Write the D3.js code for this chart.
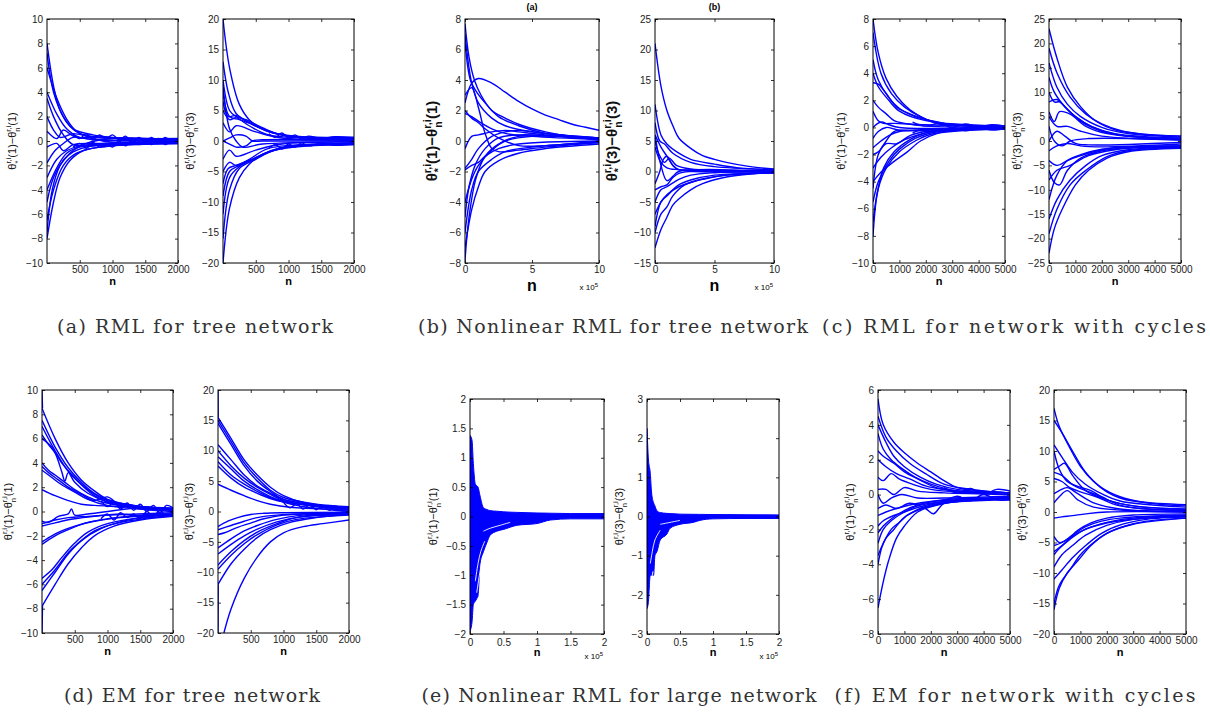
<!DOCTYPE html>
<html>
<head>
<meta charset="utf-8">
<script src="https://cdn.jsdelivr.net/npm/d3@7"></script>
<style>
  body { margin: 0; background: #fff; }
  .tick text { font-family: "Liberation Sans", Arial, sans-serif; font-size: 10px; fill: #222; }
  .tick line { stroke: #000; stroke-width: 0.8; }
</style>
</head>
<body>
<div id="chart"></div>
<script>
// ---- data: each curve is a list of [n, value] ----

const ticks2000 = [500, 1000, 1500, 2000];
const ticks10 = [0, 5, 10];
const ticks5000 = [0, 1000, 2000, 3000, 4000, 5000];
const ticks2 = [0, 0.5, 1, 1.5, 2];
const yTicksA1 = [-10, -8, -6, -4, -2, 0, 2, 4, 6, 8, 10];
const yTicks20 = [-20, -15, -10, -5, 0, 5, 10, 15, 20];
const yTicksB1 = [-8, -6, -4, -2, 0, 2, 4, 6, 8];
const yTicksB2 = [-15, -10, -5, 0, 5, 10, 15, 20, 25];
const yTicksC1 = [-10, -8, -6, -4, -2, 0, 2, 4, 6, 8];
const yTicksC2 = [-25, -20, -15, -10, -5, 0, 5, 10, 15, 20, 25];
const yTicksE1 = [-2, -1.5, -1, -0.5, 0, 0.5, 1, 1.5, 2];
const yTicksE2 = [-3, -2, -1, 0, 1, 2, 3];
const yTicksF1 = [-8, -6, -4, -2, 0, 2, 4, 6];

const captions = [
    "(a) RML for tree network",
    "(b) Nonlinear RML for tree network",
    "(c) RML for network with cycles",
    "(d) EM for tree network",
    "(e) Nonlinear RML for large network",
    "(f) EM for network with cycles"
];

const curvesA1 = [
    [[0,8],[100,4.5],[200,2.5],[350,1.2],[500,0.6],[800,0.3],[1200,0.2],[2000,0.1]],
    [[0,7.2],[100,4],[250,2],[400,1],[700,0.5],[1000,0.3],[2000,0.15]],
    [[0,6],[150,3.5],[300,1.8],[450,0.8],[700,0.2],[1000,-0.1],[2000,0]],
    [[0,4],[150,2.2],[300,1],[500,0.3],[800,0.4],[1200,0.1],[2000,0.05]],
    [[0,3.5],[100,2],[250,0.5],[400,-0.3],[700,-0.4],[1200,-0.2],[2000,-0.1]],
    [[0,2],[100,0.9],[200,0.3],[400,0.6],[700,0.3],[1200,0.2],[2000,0.2]],
    [[0,0.8],[150,0.2],[250,0.9],[400,0.4],[800,0.1],[2000,0]],
    [[0,-0.5],[150,-0.2],[250,-0.8],[400,-0.3],[800,-0.2],[2000,-0.1]],
    [[0,-1.8],[120,-0.8],[250,-0.2],[400,0.3],[700,0.1],[2000,0]],
    [[0,-3],[150,-1.5],[300,-0.8],[500,-0.4],[900,-0.2],[2000,-0.1]],
    [[0,-4],[150,-2.2],[300,-1],[500,-0.5],[1000,-0.3],[2000,-0.2]],
    [[0,-5],[100,-3],[250,-1.6],[400,-0.9],[700,-0.4],[2000,-0.15]],
    [[0,-6.5],[100,-4],[250,-2],[450,-1],[800,-0.5],[2000,-0.2]],
    [[0,-8],[100,-5],[200,-3],[350,-1.6],[550,-0.8],[1000,-0.4],[2000,-0.15]],
    [[0,-7.5],[80,-4],[200,-2],[350,-1],[600,-0.2],[1000,0.2],[2000,0.1]],
    [[400,0.5],[500,0.2],[600,0.6],[700,0.1],[800,0.5],[900,0.2],[1000,0.5],[1100,0.1],[1200,0.4],[1300,-0.1],[1400,0.3],[1500,0],[1600,0.3],[1700,-0.2],[1800,0.3],[1900,0],[2000,0.2]],
    [[400,-0.5],[500,-0.2],[600,-0.6],[700,-0.1],[800,-0.5],[900,-0.2],[1000,-0.5],[1100,0],[1200,-0.4],[1300,0.1],[1400,-0.3],[1500,0],[1600,-0.3],[1700,0.2],[1800,-0.3],[1900,0],[2000,-0.2]]
];

const curvesA2 = [
    [[0,20],[100,12],[250,6],[400,3.5],[600,2],[900,1],[1300,0.6],[2000,0.4]],
    [[0,13],[80,8],[200,4.5],[400,3],[600,2],[1000,0.8],[2000,0.5]],
    [[0,10],[100,5],[200,4],[350,3.5],[600,2.2],[900,1],[2000,0.6]],
    [[0,8],[100,4],[250,3.5],[500,2.5],[800,1.2],[1200,0.6],[2000,0.5]],
    [[0,6.5],[80,4],[200,4.2],[400,3],[700,1.5],[1100,0.8],[2000,0.5]],
    [[0,5],[100,3.5],[200,3.8],[400,2.5],[700,1],[2000,0.3]],
    [[0,3],[100,1.5],[200,2.5],[500,1.5],[900,0.5],[2000,0.2]],
    [[0,9],[100,2],[200,0],[300,-1],[600,-0.5],[2000,-0.1]],
    [[0,0],[100,0.5],[200,1],[350,0.8],[450,0],[600,0],[2000,0]],
    [[0,0],[100,-0.5],[200,-1],[350,-0.8],[450,0],[600,0.2],[2000,0.1]],
    [[0,-3],[100,-1.5],[200,-2.5],[500,-1.5],[900,-0.5],[2000,-0.2]],
    [[0,-5],[100,-3.5],[200,-4],[400,-3],[700,-1.2],[2000,-0.4]],
    [[0,-7],[80,-4.5],[200,-4],[400,-3.2],[700,-1.8],[1100,-0.8],[2000,-0.5]],
    [[0,-9],[100,-5],[250,-4],[500,-2.8],[800,-1.4],[1200,-0.7],[2000,-0.5]],
    [[0,-12],[100,-6],[250,-4.2],[450,-3],[700,-1.8],[1000,-0.9],[2000,-0.6]],
    [[0,-16],[100,-8],[250,-4.5],[500,-3],[800,-1.5],[2000,-0.5]],
    [[0,-20],[100,-11],[250,-6],[400,-3.8],[600,-2.2],[900,-1.1],[2000,-0.5]],
    [[700,1.2],[800,0.6],[900,1.3],[1000,0.5],[1100,1],[1200,0.3],[1300,0.8],[1500,0.4],[1700,0.7],[2000,0.6]],
    [[700,-1.2],[800,-0.6],[900,-1.3],[1000,-0.5],[1100,-1],[1200,-0.3],[1300,-0.8],[1500,-0.4],[1700,-0.7],[2000,-0.6]]
];

const curvesB1 = [
    [[0,2.5],[0.5,3.8],[1,4.1],[2,3.8],[3,3.2],[4,2.6],[5,2.1],[6,1.7],[7,1.4],[8,1.1],[9,0.9],[10,0.7]],
    [[0,7.7],[0.3,5.5],[0.7,4],[1.2,3],[2,2],[3,1.5],[4,1.1],[6,0.6],[8,0.3],[10,0.2]],
    [[0,7],[0.5,3.8],[1,2.5],[2,1.5],[3,1],[5,0.6],[7,0.4],[10,0.2]],
    [[0,6.5],[0.4,4],[0.8,3.3],[1.5,2.5],[2.5,1.6],[4,1],[6,0.5],[10,0.1]],
    [[0,3],[0.5,3.5],[1,2.2],[1.5,0.5],[2,-0.5],[2.5,-0.7],[4,-0.6],[6,-0.4],[10,-0.1]],
    [[0,1.8],[0.5,1.6],[1,1.3],[2,0.8],[3,0.5],[5,0.3],[10,0.1]],
    [[0,2],[0.5,1.5],[1,1.2],[1.5,0.8],[2.5,0.2],[4,-0.3],[6,-0.3],[10,0]],
    [[0,-0.5],[0.5,0.3],[1,0.4],[2,0.6],[3,0.7],[4,0.6],[6,0.4],[10,0.1]],
    [[0,-1.8],[0.5,-1.2],[1,-0.5],[2,0.3],[3,0.6],[4,0.7],[6,0.5],[10,0.2]],
    [[0,-1.9],[0.5,-1.6],[1,-1.4],[1.5,-1],[2.5,-0.5],[4,-0.2],[10,0]],
    [[0,-4],[0.5,-2.5],[1,-1.6],[2,-0.6],[3,0],[5,0.3],[10,0.2]],
    [[0,-5],[0.3,-3],[0.8,-1.5],[1.5,-0.5],[2.5,0.2],[4,0.4],[10,0.1]],
    [[0,-6],[0.5,-3.2],[1,-2],[2,-1.2],[3,-0.7],[5,-0.4],[10,-0.1]],
    [[0,-7],[0.5,-4.5],[1,-3],[1.5,-2],[2.5,-1.3],[4,-0.8],[6,-0.5],[10,-0.2]],
    [[0,-7.8],[0.3,-5],[0.8,-2.5],[1.5,-1],[2.5,-0.2],[4,0.3],[10,0.1]]
];

const curvesB2 = [
    [[0,21],[0.5,14],[1,10],[1.5,7.5],[2,5.5],[3,3.8],[4,2.6],[5,2],[6,1.5],[8,0.8],[10,0.4]],
    [[0,11],[0.5,6],[1,4.5],[2,3],[3,2],[5,1.2],[7,0.6],[10,0.3]],
    [[0,8],[0.4,5],[0.8,4.5],[1.5,3],[3,1.5],[5,0.8],[10,0.3]],
    [[0,6],[0.5,4],[1,2.5],[1.5,1],[2,0.3],[4,0.1],[10,0]],
    [[0,5],[0.3,3],[0.8,1.5],[1.2,2.2],[1.8,1],[3,0.4],[10,0.1]],
    [[0,4],[0.5,1.5],[1,0.6],[2,0.3],[10,0]],
    [[0,-2],[0.4,0],[0.7,2],[1,2.5],[1.5,1],[2,0.3],[10,0]],
    [[0,6],[0.5,1],[1,-1.5],[1.5,-0.8],[2,0],[10,0]],
    [[0,-3],[0.5,-2.5],[1,-2.2],[1.5,-1],[2,-0.3],[3,0],[10,0]],
    [[0,-5],[0.5,-3],[1,-2.5],[2,-1.3],[3,-0.6],[5,-0.2],[10,0]],
    [[0,-7],[0.5,-5],[1,-3.8],[2,-2.5],[3,-1.8],[4,-1.3],[6,-0.6],[10,-0.2]],
    [[0,-9],[0.5,-5],[1,-4],[2,-2.2],[3,-1.4],[5,-0.6],[10,-0.2]],
    [[0,-12.5],[0.5,-9.5],[1,-7.5],[1.5,-5.5],[2,-4.5],[3,-3],[4,-2],[6,-0.9],[8,-0.4],[10,-0.2]],
    [[0,-10],[0.5,-7],[1,-5.8],[1.5,-4],[2.5,-2.2],[4,-1.2],[6,-0.6],[10,-0.2]]
];

const curvesC1 = [
    [[0,8],[200,5.5],[500,3.6],[900,2.3],[1400,1.3],[2000,0.6],[2600,0.2],[3500,0.1],[5000,0]],
    [[0,7],[300,4],[700,2.5],[1200,1.5],[1800,0.8],[2500,0.3],[5000,0.1]],
    [[0,5],[200,3.5],[600,2.2],[1000,1.4],[1600,0.8],[2200,0.5],[3000,0.2],[5000,0.1]],
    [[0,3.3],[200,3.2],[500,2.5],[900,1.5],[1400,1],[2000,0.6],[2600,0.3],[5000,0.1]],
    [[0,4],[200,3],[600,2],[1000,1.2],[2000,0.5],[5000,0.1]],
    [[0,2],[200,1.5],[500,1],[800,0.5],[1200,0.3],[2000,0.1],[5000,0]],
    [[0,1.2],[200,0.5],[400,0.3],[800,0.3],[2000,0.2],[5000,0.1]],
    [[0,0],[300,0.4],[600,0.2],[1000,0],[5000,0]],
    [[0,-0.8],[200,-0.3],[500,0],[1000,-0.2],[5000,-0.1]],
    [[0,-1.5],[300,-1],[600,-0.6],[1000,-0.3],[2000,-0.2],[5000,-0.1]],
    [[0,-2],[200,-1.8],[500,-1.2],[900,-1.2],[1400,-0.6],[2000,-0.3],[5000,-0.1]],
    [[0,-3],[300,-2.2],[700,-1.5],[1200,-0.9],[1800,-0.5],[2500,-0.2],[5000,-0.1]],
    [[0,-4],[300,-3.3],[800,-2.5],[1300,-1.8],[1800,-1],[2500,-0.4],[3500,-0.1],[5000,-0.1]],
    [[0,-5.5],[200,-4],[600,-2.5],[1000,-1.6],[1600,-0.8],[2500,-0.3],[5000,-0.1]],
    [[0,-7],[200,-4.5],[500,-3],[1000,-1.8],[1600,-1],[2200,-0.5],[5000,-0.1]],
    [[0,-8],[150,-5],[400,-3],[800,-1.8],[1400,-0.9],[2000,-0.4],[5000,-0.1]],
    [[0,-4.5],[200,-2],[500,-1],[800,-0.3],[1500,-0.2],[5000,0]],
    [[1500,0.4],[2000,0.1],[2500,0.3],[3000,0],[3500,0.25],[4000,0.05],[4500,0.2],[5000,0.1]],
    [[1500,-0.4],[2000,-0.1],[2500,-0.3],[3000,0],[3500,-0.25],[4000,-0.05],[4500,-0.2],[5000,-0.1]]
];

const curvesC2 = [
    [[0,23],[300,17],[700,11],[1200,7],[1800,4],[2500,2.3],[3500,1.4],[5000,1]],
    [[0,19],[300,14],[800,9],[1400,5.5],[2000,3.5],[2800,2],[4000,1.2],[5000,1]],
    [[0,16],[300,11],[700,7.5],[1200,5],[2000,2.8],[3000,1.5],[5000,0.8]],
    [[0,13],[200,10],[600,7],[1000,5],[1600,3],[2500,1.5],[5000,0.6]],
    [[0,10],[200,8],[400,8],[700,6.5],[1200,4],[2000,2],[3000,1],[5000,0.5]],
    [[0,8],[300,8.5],[600,7],[1000,5],[1600,3],[2600,1.3],[5000,0.4]],
    [[0,6],[200,4],[400,6],[800,5.5],[1400,3],[2200,1.5],[5000,0.3]],
    [[0,5],[300,3],[700,3],[1200,2],[2000,1],[5000,0.2]],
    [[0,3],[200,0],[500,-1],[800,0],[1500,0.5],[5000,0.2]],
    [[0,0],[300,2],[600,1],[1000,-0.5],[1500,-0.8],[5000,-0.3]],
    [[0,-2],[300,-1],[700,-0.5],[1200,-1],[2000,-1.2],[5000,-0.6]],
    [[0,-4],[300,-5],[700,-4],[1200,-3],[2000,-1.8],[3000,-1.2],[5000,-1]],
    [[0,-6],[200,-8.5],[400,-9],[700,-6],[1200,-3.5],[2000,-2],[3000,-1.4],[5000,-1.2]],
    [[0,-8],[300,-6],[800,-5],[1500,-3],[2500,-1.8],[5000,-1]],
    [[0,-12],[300,-7],[700,-4],[1200,-2.8],[2000,-1.7],[3000,-1.2],[5000,-1]],
    [[0,-16],[300,-12],[800,-8],[1400,-5],[2000,-3],[3000,-1.8],[5000,-1.2]],
    [[0,-19],[300,-14],[800,-9],[1400,-6],[2200,-3.2],[3000,-2],[5000,-1.3]],
    [[0,-23],[200,-18],[500,-14],[1000,-9],[1500,-6],[2200,-3.5],[3000,-2.2],[5000,-1.5]]
];

const curvesD1 = [
    [[0,10],[8,8.5]],
    [[0,-10],[8,-7.8]],
    [[0,8.5],[200,6],[400,4],[600,2.6],[800,1.7],[1000,1],[1400,0.5],[2000,0.2]],
    [[0,7.5],[200,5.3],[400,3.6],[600,2.4],[800,1.5],[1100,0.8],[1500,0.4],[2000,0.2]],
    [[0,7],[200,5],[400,3.3],[600,2.2],[800,1.3],[1100,0.6],[2000,0.3]],
    [[0,6.3],[100,5.5],[200,4.8],[300,3.3],[350,2.5],[400,3.2],[500,2.4],[700,1.5],[1000,0.8],[1500,0.4],[2000,0.2]],
    [[0,6],[150,5.3],[300,4],[500,2.8],[700,1.8],[1000,0.9],[2000,0.2]],
    [[0,4],[100,3.4],[200,3],[350,2.4],[500,1.8],[700,1.2],[900,0.8],[1200,0.5],[1500,0.3],[2000,0.2]],
    [[0,3.7],[100,3.2],[250,2.6],[400,2],[600,1.4],[800,0.9],[1000,1.2],[1200,0.5],[2000,0.1]],
    [[0,3.4],[150,2.8],[300,2.2],[500,1.6],[700,1],[1000,0.5],[2000,0]],
    [[0,1.8],[200,1.3],[400,0.9],[600,0.6],[800,0.5],[1200,0.4],[2000,0.2]],
    [[0,-0.8],[100,-0.9],[250,-0.4],[400,-0.2],[450,0.2],[500,-0.3],[700,-0.2],[1000,0],[1500,0.3],[2000,0.1]],
    [[0,-1.2],[150,-1],[300,-0.8],[500,-0.6],[800,-0.4],[1200,-0.2],[1700,-0.5],[2000,-0.2]],
    [[0,-1],[200,-0.7],[400,-0.5],[700,-0.4],[1000,-0.3],[2000,-0.1]],
    [[0,-2.5],[150,-2],[300,-1.6],[500,-1.2],[800,-0.8],[1200,-0.5],[2000,-0.2]],
    [[0,-2.7],[200,-2],[400,-1.5],[700,-0.9],[1000,-0.6],[1500,-0.3],[2000,-0.2]],
    [[0,-5.5],[150,-4.8],[300,-3.8],[500,-2.6],[700,-1.7],[1000,-1],[1500,-0.5],[2000,-0.3]],
    [[0,-6],[200,-4.8],[400,-3.4],[600,-2.4],[800,-1.6],[1100,-1],[1500,-0.5],[2000,-0.2]],
    [[0,-6.5],[200,-5],[400,-3.5],[600,-2.4],[900,-1.4],[1200,-0.9],[2000,-0.3]],
    [[0,-7.8],[200,-6],[400,-4.3],[600,-3],[800,-2],[1100,-1.2],[1500,-0.7],[2000,-0.4]],
    [[900,0.9],[1000,0.4],[1100,0.8],[1200,0.2],[1300,0.7],[1400,0.1],[1500,0.6],[1600,0],[1700,0.5],[1800,-0.1],[1900,0.5],[2000,0.3]],
    [[900,-0.6],[1000,-0.2],[1100,-0.7],[1200,-0.1],[1300,-0.5],[1400,-0.2],[1500,-0.6],[1600,0],[1700,-0.4],[1800,0.1],[1900,-0.4],[2000,-0.2]]
];

const curvesD2 = [
    [[0,20],[3,15.5]],
    [[0,-20],[3,-12]],
    [[0,15.5],[200,12],[400,8.5],[600,6],[800,4],[1000,2.6],[1300,1.5],[2000,0.6]],
    [[0,15],[200,11.5],[400,8],[600,5.5],[800,3.5],[1000,2.3],[1500,1.2],[2000,0.8]],
    [[0,14.5],[200,11],[400,7.5],[600,5],[800,3.3],[1000,2],[2000,0.5]],
    [[0,11],[200,8.5],[400,6],[600,4.2],[800,3],[1000,2],[1500,1],[2000,0.4]],
    [[0,10],[200,7.5],[400,5.5],[600,4],[800,2.8],[1000,1.8],[2000,0.2]],
    [[0,9],[200,7],[400,5],[600,3.6],[900,2],[1500,0.8],[2000,0.3]],
    [[0,8.2],[200,6],[400,4.5],[600,3.3],[800,2.3],[1200,1],[2000,0]],
    [[0,7.5],[200,5.5],[400,4],[600,3],[900,1.8],[2000,0.5]],
    [[0,4.5],[200,3.5],[400,2.6],[600,1.8],[800,1.2],[1100,0.7],[2000,0.3]],
    [[0,-2.5],[150,-1.6],[300,-1],[500,-0.5],[700,-0.3],[1000,-0.2],[2000,-0.1]],
    [[0,-3],[200,-2.3],[400,-1.6],[600,-1],[900,-0.6],[2000,-0.2]],
    [[0,-3.8],[100,-3.5],[300,-2.6],[500,-1.9],[700,-1.2],[1000,-0.6],[2000,-0.3]],
    [[0,-6],[200,-4.5],[400,-3.2],[600,-2.3],[900,-1.3],[1300,-0.6],[2000,-0.2]],
    [[0,-7],[200,-5.4],[400,-4],[600,-2.9],[900,-1.7],[1300,-0.8],[2000,-0.3]],
    [[0,-8.8],[200,-6.6],[400,-4.8],[600,-3.4],[900,-2],[1200,-1],[2000,-0.5]],
    [[0,-9.5],[200,-7.2],[400,-5.3],[600,-3.8],[900,-2.2],[1200,-1.3],[2000,-0.6]],
    [[0,-12],[200,-8.6],[400,-6.2],[600,-4.3],[800,-3],[1100,-1.8],[1500,-1],[2000,-0.4]],
    [[90,-20],[200,-16],[400,-11],[600,-7.5],[800,-5],[1000,-3.5],[1300,-2.5],[1600,-2],[2000,-1.4]],
    [[1000,1.5],[1100,0.6],[1200,1.3],[1300,0.4],[1400,1.1],[1500,0.3],[1600,1],[1700,0.2],[1800,0.9],[1900,0.1],[2000,0.8]]
];

// dense bands in (e): upper and lower edges of the filled region
const upperE1 = [[0,1.38],[0.03,1.3],[0.05,0.9],[0.08,0.55],[0.12,0.5],[0.15,0.35],[0.2,0.15],[0.25,0.12],[0.3,0.1],[0.5,0.08],[0.7,0.07],[1,0.06],[1.5,0.05],[2,0.05]];
const lowerE1 = [[0,-1.95],[0.03,-1.8],[0.05,-1.5],[0.1,-1.4],[0.12,-1.35],[0.15,-0.8],[0.2,-0.6],[0.25,-0.45],[0.3,-0.32],[0.4,-0.25],[0.5,-0.22],[0.7,-0.15],[1,-0.12],[1.2,-0.06],[1.5,-0.04],[2,-0.04]];
const upperE2 = [[0,2.25],[0.02,1.5],[0.05,1.1],[0.07,0.6],[0.1,0.35],[0.15,0.15],[0.2,0.1],[0.3,0.08],[0.5,0.06],[1,0.05],[2,0.04]];
const lowerE2 = [[0,-2.35],[0.02,-2.2],[0.05,-1.5],[0.1,-1.5],[0.12,-1],[0.15,-0.9],[0.2,-0.6],[0.3,-0.45],[0.35,-0.3],[0.5,-0.2],[0.7,-0.15],[0.8,-0.1],[1,-0.06],[1.5,-0.05],[2,-0.05]];
// white streaks seen inside the dense bands of (e)
const gapsE1 = [
    [[0.08,-1.1],[0.12,-0.8],[0.16,-0.6],[0.22,-0.42]],
    [[0.1,-1.3],[0.14,-1.0],[0.18,-0.75]],
    [[0.2,-0.25],[0.3,-0.2],[0.45,-0.15],[0.6,-0.1]]
];
const gapsE2 = [
    [[0.05,-1.2],[0.08,-0.9],[0.12,-0.6],[0.2,-0.35]],
    [[0.06,-1.7],[0.09,-1.4]],
    [[0.2,-0.2],[0.35,-0.15],[0.5,-0.1]]
];

const curvesF1 = [
    [[0,5.5],[200,4],[600,3],[1000,2.4],[1500,1.8],[2000,1.3],[2500,0.8],[3000,0.4],[4000,0.2],[5000,0.1]],
    [[0,4.5],[300,3.3],[700,2.5],[1200,1.8],[1800,1.2],[2500,0.6],[3500,0.3],[5000,0.1]],
    [[0,4],[300,3],[600,2.2],[1000,1.6],[1600,1],[2200,0.6],[3000,0.3],[5000,0.1]],
    [[0,3.5],[200,2.6],[500,2],[900,1.5],[1400,1],[2000,0.6],[3000,0.2],[5000,0]],
    [[0,2.5],[200,2.2],[600,1.8],[1000,1.3],[1500,0.9],[2200,0.4],[3000,0.2],[5000,0.1]],
    [[0,2],[300,1.6],[700,1.2],[1200,0.9],[1800,0.5],[2500,0.3],[5000,0]],
    [[0,1],[200,0.8],[500,1.2],[800,0.9],[1300,0.6],[2000,0.3],[5000,0]],
    [[0,0.3],[300,0.3],[600,0],[1000,0.4],[1500,0.2],[2500,0.1],[5000,0]],
    [[0,0],[200,-0.5],[500,-0.2],[900,0],[1500,-0.2],[2500,-0.2],[5000,-0.1]],
    [[0,-0.8],[300,-0.6],[700,-0.8],[1200,-0.5],[1800,-0.8],[2100,-1.1],[2500,-0.5],[3500,-0.3],[5000,-0.2]],
    [[0,-1.2],[300,-1],[700,-0.8],[1200,-0.6],[2000,-0.4],[5000,-0.2]],
    [[0,-1.8],[200,-1.5],[600,-1.2],[1000,-1],[1600,-0.7],[2500,-0.4],[5000,-0.2]],
    [[0,-2.2],[200,-1.8],[500,-1.4],[900,-1],[1500,-0.6],[2500,-0.3],[5000,-0.2]],
    [[0,-2.8],[200,-2],[500,-1.5],[1000,-1],[1600,-0.6],[5000,-0.2]],
    [[0,-3.5],[200,-2.8],[500,-2],[800,-1.6],[1200,-1.1],[2000,-0.6],[5000,-0.3]],
    [[0,-4],[150,-3],[300,-2.5],[600,-2],[1000,-1.3],[1500,-0.9],[2500,-0.5],[5000,-0.2]],
    [[0,-6.5],[200,-5],[400,-3.8],[700,-2.5],[1000,-1.8],[1500,-1],[2000,-0.7],[3000,-0.4],[5000,-0.2]],
    [[2500,0.4],[3000,0.1],[3500,0.35],[4000,0],[4500,0.3],[5000,0.2]],
    [[2500,-0.4],[3000,-0.1],[3500,-0.35],[4000,0],[4500,-0.3],[5000,-0.3]]
];

const curvesF2 = [
    [[0,17],[200,14],[600,10.5],[1000,7.5],[1500,5],[2000,3.3],[2500,2.3],[3000,1.8],[4000,1.4],[5000,1.2]],
    [[0,15],[300,13],[700,10],[1200,6.5],[1800,4],[2500,2.5],[3500,1.5],[5000,1]],
    [[0,11],[300,9],[700,6.5],[1200,4.5],[1800,3],[2500,1.8],[5000,0.8]],
    [[0,10],[200,7],[500,5],[900,4.2],[1400,3.5],[2000,2],[3000,1],[5000,0.5]],
    [[0,7],[200,7.5],[400,8],[700,6],[1200,3.5],[2000,2],[3000,1],[5000,0.4]],
    [[0,6.5],[300,6],[700,4.5],[1200,3.5],[1800,2.5],[2600,1],[5000,0.2]],
    [[0,5.5],[300,5],[600,4],[1000,3.3],[1600,2.5],[2500,1],[5000,0.3]],
    [[0,3],[200,3.5],[500,4],[900,3],[1500,1.5],[2500,0.5],[5000,0.1]],
    [[0,1.5],[200,2.5],[500,3.5],[900,2],[1500,0.8],[5000,0]],
    [[0,-1],[300,-0.8],[700,-0.6],[1200,-0.3],[2000,0],[5000,0]],
    [[0,-4],[200,-5],[500,-4.5],[900,-3],[1400,-1.8],[2000,-1],[3000,-0.5],[5000,-0.3]],
    [[0,-5.5],[300,-5],[700,-3.8],[1200,-2.4],[1800,-1.5],[2500,-1],[5000,-0.5]],
    [[0,-6.5],[300,-5.5],[700,-4],[1200,-2.8],[2000,-1.7],[3000,-1],[5000,-0.6]],
    [[0,-7],[200,-6],[600,-4.5],[1100,-3],[1800,-2],[3000,-1.2],[5000,-0.7]],
    [[0,-9],[300,-7],[700,-5.5],[1200,-3.8],[2000,-2.2],[3000,-1.2],[5000,-0.8]],
    [[0,-11],[300,-9.5],[700,-7.5],[1200,-5.5],[1800,-3.5],[2600,-2],[3500,-1.2],[5000,-0.8]],
    [[0,-15],[200,-12],[600,-9.5],[1000,-7],[1500,-5],[2000,-3.5],[2700,-2.3],[3500,-1.5],[5000,-1]],
    [[0,-16],[200,-12.5],[500,-10],[900,-8],[1400,-5.5],[2000,-3.5],[3000,-2],[5000,-1]]
];

// ---- layout ----
const W = 1210, H = 714;
const blue = "#0000ff";
const fmt = d3.format("");

const svg = d3.select("#chart").append("svg")
    .attr("width", W)
    .attr("height", H)
    .style("font-family", "'Liberation Sans', Arial, sans-serif");

const panels = [
    {l: 47, r: 178, t: 19, b: 263, xd: [0, 2000], xt: ticks2000, yd: [-10, 10], yt: yTicksA1, curves: curvesA1, k: 1, yl: 16, big: false},
    {l: 223, r: 354, t: 19, b: 263, xd: [0, 2000], xt: ticks2000, yd: [-20, 20], yt: yTicks20, curves: curvesA2, k: 3, yl: 194, big: false},
    {l: 465, r: 599, t: 19, b: 263, xd: [0, 10], xt: ticks10, yd: [-8, 8], yt: yTicksB1, curves: curvesB1, k: 1, yl: 437, big: true, exp: true, title: "(a)"},
    {l: 655, r: 774, t: 19, b: 263, xd: [0, 10], xt: ticks10, yd: [-15, 25], yt: yTicksB2, curves: curvesB2, k: 3, yl: 617, big: true, exp: true, title: "(b)"},
    {l: 873, r: 1005, t: 19, b: 263, xd: [0, 5000], xt: ticks5000, yd: [-10, 8], yt: yTicksC1, curves: curvesC1, k: 1, yl: 845, big: false},
    {l: 1049, r: 1181, t: 19, b: 263, xd: [0, 5000], xt: ticks5000, yd: [-25, 25], yt: yTicksC2, curves: curvesC2, k: 3, yl: 1021, big: false},
    {l: 42, r: 173, t: 390, b: 633, xd: [0, 2000], xt: ticks2000, yd: [-10, 10], yt: yTicksA1, curves: curvesD1, k: 1, yl: 12, big: false},
    {l: 218, r: 349, t: 390, b: 633, xd: [0, 2000], xt: ticks2000, yd: [-20, 20], yt: yTicks20, curves: curvesD2, k: 3, yl: 193, big: false},
    {l: 470, r: 604, t: 399, b: 634, xd: [0, 2], xt: ticks2, yd: [-2, 2], yt: yTicksE1, curves: [], band: [upperE1, lowerE1], gaps: gapsE1, k: 1, yl: 437, big: false, exp: true},
    {l: 647, r: 779, t: 399, b: 634, xd: [0, 2], xt: ticks2, yd: [-3, 3], yt: yTicksE2, curves: [], band: [upperE2, lowerE2], gaps: gapsE2, k: 3, yl: 623, big: false, exp: true},
    {l: 878, r: 1010, t: 390, b: 634, xd: [0, 5000], xt: ticks5000, yd: [-8, 6], yt: yTicksF1, curves: curvesF1, k: 1, yl: 854, big: false},
    {l: 1054, r: 1186, t: 390, b: 634, xd: [0, 5000], xt: ticks5000, yd: [-20, 20], yt: yTicks20, curves: curvesF2, k: 3, yl: 1026, big: false}
];

// theta label with stacked super/subscripts: θ^{r,i}_*(k) − θ^{r,i}_n(k)
function yLabel(p) {
    const s = p.big ? 15 : 11;
    const ss = s * 0.7;
    const t = svg.append("text")
        .attr("transform", `translate(${p.yl},${(p.t + p.b) / 2}) rotate(-90)`)
        .attr("text-anchor", "middle")
        .style("font-size", s + "px")
        .style("font-weight", p.big ? "bold" : "normal")
        .attr("fill", "#111");
    const part = (sub, back, fwd) => {
        t.append("tspan").text("θ");
        t.append("tspan").attr("dy", -0.42 * s).style("font-size", ss + "px").text("r,i");
        t.append("tspan").attr("dx", -back * s).attr("dy", 0.75 * s).style("font-size", ss + "px").text(sub);
        return fwd;
    };
    const f1 = part("*", 0.55, 0.27);
    t.append("tspan").attr("dx", f1 * s).attr("dy", -0.33 * s).text(`(${p.k})−`);
    const f2 = part("n", 0.55, 0.15);
    t.append("tspan").attr("dx", f2 * s).attr("dy", -0.33 * s).text(`(${p.k})`);
}

panels.forEach((p, i) => {
    const x = d3.scaleLinear().domain(p.xd).range([p.l, p.r]);
    const y = d3.scaleLinear().domain(p.yd).range([p.b, p.t]);

    svg.append("clipPath").attr("id", "clip" + i)
        .append("rect")
        .attr("x", p.l).attr("y", p.t)
        .attr("width", p.r - p.l).attr("height", p.b - p.t);

    const plot = svg.append("g").attr("clip-path", `url(#clip${i})`);

    const line = d3.line()
        .x(d => x(d[0]))
        .y(d => y(d[1]))
        .curve(d3.curveCatmullRom.alpha(0.5));

    if (p.band) {
        // fill between the upper and lower edge lists
        const [upPts, loPts] = p.band;
        const ns = Array.from(new Set(upPts.map(d => d[0]).concat(loPts.map(d => d[0])))).sort(d3.ascending);
        const up = d3.scaleLinear().domain(upPts.map(d => d[0])).range(upPts.map(d => d[1]));
        const dn = d3.scaleLinear().domain(loPts.map(d => d[0])).range(loPts.map(d => d[1]));
        const area = d3.area()
            .x(d => x(d[0]))
            .y0(d => y(d[2]))
            .y1(d => y(d[1]))
            .curve(d3.curveMonotoneX);
        plot.append("path")
            .datum(ns.map(n => [n, up(n), dn(n)]))
            .attr("d", area)
            .attr("fill", blue)
            .attr("stroke", blue)
            .attr("stroke-width", 1);
        plot.selectAll("path.gap")
            .data(p.gaps)
            .enter()
            .append("path")
            .attr("class", "gap")
            .attr("d", line)
            .attr("fill", "none")
            .attr("stroke", "#fff")
            .attr("stroke-width", 0.9);
    }

    plot.selectAll("path.curve")
        .data(p.curves)
        .enter()
        .append("path")
        .attr("class", "curve")
        .attr("d", line)
        .attr("fill", "none")
        .attr("stroke", blue)
        .attr("stroke-width", 1.4);

    // box with inward ticks on all sides
    const w = p.r - p.l, h = p.b - p.t;
    svg.append("g").attr("transform", `translate(0,${p.b})`)
        .call(d3.axisBottom(x).tickValues(p.xt).tickSizeInner(-3).tickSizeOuter(0).tickPadding(p.band ? 5 : 3).tickFormat(fmt))
        .call(g => g.select(".domain").remove());
    svg.append("g").attr("transform", `translate(0,${p.t})`)
        .call(d3.axisTop(x).tickValues(p.xt).tickSizeInner(-3).tickSizeOuter(0).tickFormat(() => ""))
        .call(g => g.select(".domain").remove());
    svg.append("g").attr("transform", `translate(${p.l},0)`)
        .call(d3.axisLeft(y).tickValues(p.yt).tickSizeInner(-3).tickSizeOuter(0).tickPadding(4).tickFormat(fmt))
        .call(g => g.select(".domain").remove());
    svg.append("g").attr("transform", `translate(${p.r},0)`)
        .call(d3.axisRight(y).tickValues(p.yt).tickSizeInner(-3).tickSizeOuter(0).tickFormat(() => ""))
        .call(g => g.select(".domain").remove());

    svg.append("rect")
        .attr("x", p.l).attr("y", p.t)
        .attr("width", w).attr("height", h)
        .attr("fill", "none")
        .attr("stroke", "#000")
        .attr("stroke-width", 1);

    // x label
    svg.append("text")
        .attr("x", (p.l + p.r) / 2)
        .attr("y", p.b + (p.big ? 28 : 22))
        .attr("text-anchor", "middle")
        .style("font-size", p.big ? "16px" : "11px")
        .style("font-weight", "bold")
        .text("n");

    if (p.exp) {
        const e = svg.append("text")
            .attr("x", p.r - 1)
            .attr("y", p.b + (p.big ? 27 : 25))
            .attr("text-anchor", "end")
            .style("font-size", "8px")
            .text("x 10");
        e.append("tspan").attr("dy", -3).style("font-size", "6px").text("5");
    }

    if (p.title) {
        svg.append("text")
            .attr("x", (p.l + p.r) / 2)
            .attr("y", 10)
            .attr("text-anchor", "middle")
            .style("font-size", "9px")
            .style("font-weight", "bold")
            .text(p.title);
    }

    yLabel(p);
});

// sub-figure captions
const capPos = [[195, 333, 276], [613, 333, 390], [1014, 333, 384], [192, 702, 256], [619, 702, 395], [1015, 702, 361]];
svg.selectAll("text.cap")
    .data(captions)
    .enter()
    .append("text")
    .attr("class", "cap")
    .attr("x", (d, i) => capPos[i][0])
    .attr("y", (d, i) => capPos[i][1])
    .attr("text-anchor", "middle")
    .attr("textLength", (d, i) => capPos[i][2])
    .attr("lengthAdjust", "spacing")
    .style("font-family", "'DejaVu Serif', 'Liberation Serif', serif")
    .style("font-size", "19px")
    .attr("fill", "#333")
    .text(d => d);
</script>
</body>
</html>
